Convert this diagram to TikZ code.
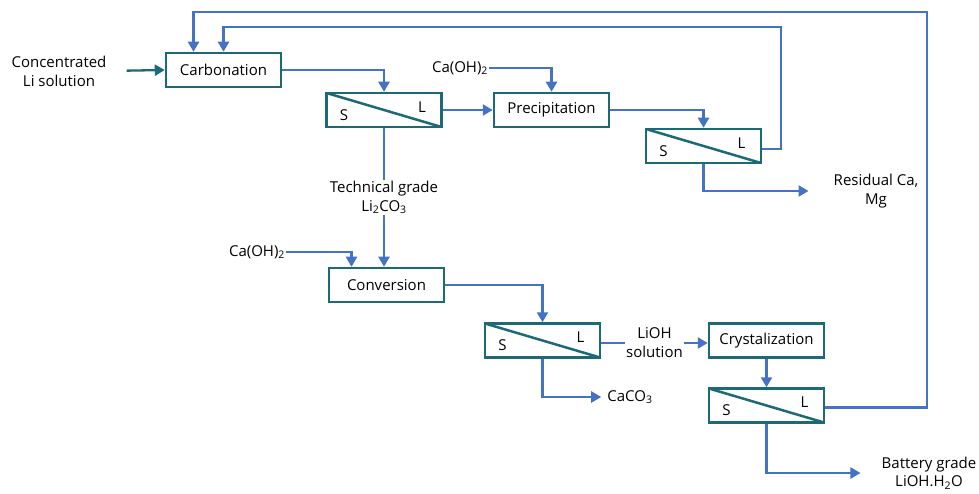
\documentclass[tikz,border=0pt]{standalone}
\usepackage{fontspec}
\setmainfont{Open Sans}
\usetikzlibrary{arrows.meta}
\definecolor{boxteal}{HTML}{1B6A76}
\definecolor{flowblue}{HTML}{4472C4}
\newcommand{\chemsub}[1]{\textsubscript{#1}}

\begin{document}
\begin{tikzpicture}[x=1pt,y=-1pt,
		every node/.style={font=\fontsize{15}{19}\selectfont},
		proc/.style={draw=boxteal,line width=2.5pt,minimum width=115pt,minimum height=34pt,inner sep=0pt},
		sepbox/.style={proc,path picture={\draw[boxteal,line width=2.5pt] (path picture bounding box.north west) -- (path picture bounding box.south east);},
			label={[xshift=-40pt,yshift=-5pt]center:S},label={[xshift=38pt,yshift=3pt]center:L}},
		flow/.style={draw=flowblue,line width=2.3pt,-{Triangle[length=10pt,width=11pt]}},
		txt/.style={align=center,inner sep=1pt}]
				\useasboundingbox (0,0) rectangle (979,494);
				% process boxes and separators
				\node[proc] (carb) at (223.5,70) {Carbonation};
				\node[sepbox] (sep1) at (384,110) {};
				\node[proc] (prec) at (551.5,110) {Precipitation};
				\node[sepbox] (sep2) at (703.5,146) {};
				\node[proc] (conv) at (386.5,285) {Conversion};
				\node[sepbox] (sep3) at (542.5,340.5) {};
				\node[proc] (cryst) at (766.5,340.5) {Crystalization};
				\node[sepbox] (sep4) at (766.5,405.5) {};
				% streams
				\node[txt] (feed) at (59,71) {Concentrated\\Li solution};
				\node[txt] (caoha) at (460,68) {Ca(OH)\chemsub{2}};
				\node[txt] (caohb) at (257,252) {Ca(OH)\chemsub{2}};
				\node[txt] (resid) at (876,191) {Residual Ca,\\Mg};
				\node[txt] (caco) at (630,397) {CaCO\chemsub{3}};
				\node[txt,font=\fontsize{15}{18}\selectfont] (batt) at (929,473) {Battery grade\\LiOH.H\chemsub{2}O};
				\coordinate (loopa) at (781,27);
				\coordinate (loopb) at (927,12);
				% connectors
				\draw[flow,draw=boxteal,shorten <=19pt] (feed.east) -- (carb.west);
				\draw[flow] (carb.east) -| (sep1.north);
				\draw[flow] (sep1.east) -- (prec.west);
				\draw[flow] (caoha.east) -| (prec.north);
				\draw[flow] (prec.east) -| (sep2.north);
				\draw[flow,shorten >=24pt] (sep2.south) |- (resid.west);
				\draw[flow] ([yshift=-3pt]sep2.east) -| (loopa) -| (carb.north);
				\draw[flow] (sep1.south) -- node[txt,fill=white] (tech) {Technical grade\\Li\chemsub{2}CO\chemsub{3}} (sep1.south |- conv.north);
				\draw[flow] (caohb.east) -| ([xshift=-35pt]conv.north);
				\draw[flow] (conv.east) -| (sep3.north);
				\draw[flow,shorten >=5pt] (sep3.south) |- (caco.west);
				\draw[flow] ([yshift=-2.5pt]sep3.east) -- node[txt,fill=white] (lioh) {LiOH\\solution} ([yshift=-2.5pt]cryst.west);
				\draw[flow] (cryst.south) -- (sep4.north);
				\draw[flow] ([yshift=-2pt]sep4.east) -| (loopb) -| ([xshift=-30pt]carb.north);
				\draw[flow,shorten >=20pt] (sep4.south) |- (batt.west);
			\end{tikzpicture}
\end{document}
